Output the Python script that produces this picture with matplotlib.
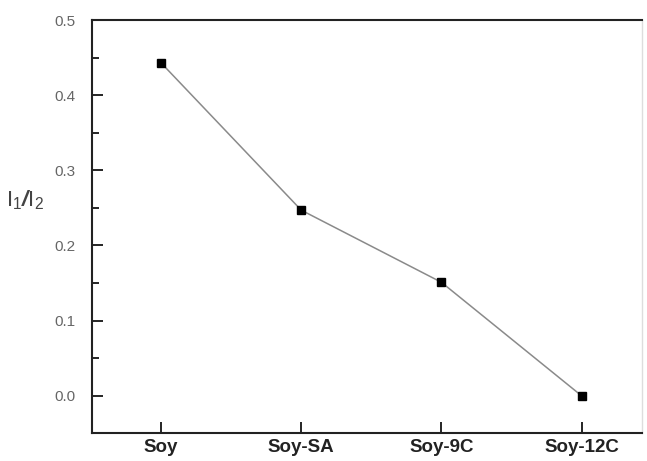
import matplotlib

matplotlib.use("Agg")
import matplotlib.pyplot as plt
from matplotlib.ticker import MultipleLocator

plt.rcParams["font.family"] = ["Liberation Sans", "DejaVu Sans"]
plt.rcParams["mathtext.fontset"] = "custom"
plt.rcParams["mathtext.rm"] = "Liberation Sans"
plt.rcParams["mathtext.it"] = "Liberation Sans:italic"
plt.rcParams["mathtext.bf"] = "Liberation Sans:italic:bold"

samples = ["Soy", "Soy-SA", "Soy-9C", "Soy-12C"]
ratio = [0.443, 0.247, 0.151, 0.0]

fig = plt.figure(figsize=(6.47, 4.61), dpi=100)
ax = fig.add_axes([0.1417, 0.060, 0.8503, 0.8966])

x = list(range(len(samples)))
ax.plot(x, ratio, color="#8a8a8a", lw=1.1, zorder=2)
ax.plot(x, ratio, ls="none", marker="s", ms=5.2, color="black", zorder=3)

ax.set_xlim(-0.495, 3.43)
ax.set_ylim(-0.05, 0.5)
ax.set_xticks(x)
ax.set_xticklabels(samples, fontsize=13.5, fontweight="bold", color="#222222")
ax.yaxis.set_minor_locator(MultipleLocator(0.05))
ax.set_yticks([0.0, 0.1, 0.2, 0.3, 0.4, 0.5])
ax.set_yticklabels(["0.0", "0.1", "0.2", "0.3", "0.4", "0.5"], fontsize=11, color="#666666")

ax.tick_params(axis="y", which="major", direction="in", length=8, width=1.2, pad=12)
ax.tick_params(axis="y", which="minor", direction="in", length=5, width=1.2)
ax.tick_params(axis="x", which="major", direction="in", length=8, width=1.2, pad=4)
ax.tick_params(top=False, right=False)

for side in ["left", "bottom", "top"]:
    ax.spines[side].set_linewidth(1.5)
    ax.spines[side].set_color("#222222")
ax.spines["right"].set_linewidth(1.0)
ax.spines["right"].set_color("#dddddd")

ax.set_ylabel(r"I$_1$$\mathbf{/}$I$_2$", rotation=0, fontsize=16, color="#444444")
ax.yaxis.set_label_coords(-0.121, 0.535)

fig.savefig("out.png", dpi=100)
